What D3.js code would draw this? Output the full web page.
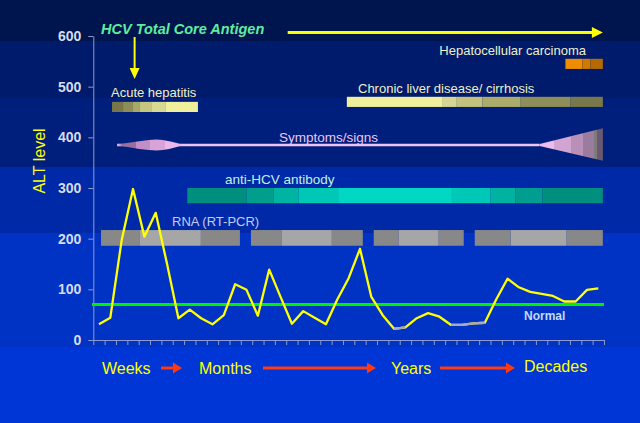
<!DOCTYPE html>
<html><head><meta charset="utf-8">
<script src="https://cdn.jsdelivr.net/npm/d3@7"></script>
<style>
html,body{margin:0;padding:0;background:#0035d6;}
svg{display:block;font-family:"Liberation Sans",Arial,sans-serif;}
</style></head>
<body><svg id="c" width="640" height="423"></svg>
<script>
// ---------- DATA ----------
const timeSteps = [1,2,3,4,5,6,7,8,9,10,11,12,13,14,15,16,17,18,19,20,21,22,23,24,25,26,27,28,29,30,31,32,33,34,35,36,37,38,39,40,41,42,43,44,45];
const altValues = [31,44,197,298,204,251,150,43,60,43,31,49,110,99,48,139,85,32,57,44,31,80,122,180,85,49,22,25,43,53,46,30,30,33,34,80,121,104,95,91,87,76,76,99,102];
const grayRuns = [[26,27],[31,34]];          // segments drawn in grey
const normalLevel = 70;
const yTicks = [0,100,200,300,400,500,600];

// annotation spans (x in time-step units 0..45, y in ALT units)
const acuteBounds   = [1.65,2.62,3.5,4.11,5.17,6.4,9.22];
const acuteY        = [450,470];
const hccBounds     = [41.6,43.1,43.8,44.9];
const hccY          = [535,555];
const chronicBounds = [22.34,30.8,32.03,34.3,37.66,42.06,44.9];
const chronicY      = [460,480];
const antiBounds    = [8.28,13.5,15.9,18.1,21.57,31.6,35.0,37.2,39.57,44.9];
const antiY         = [270,300];
const rnaBounds     = [[0.68,4.11,9.48,12.92],[13.89,16.62,21.02,23.75],[24.71,26.92,30.44,32.64],[33.61,36.78,41.71,44.9]];
const rnaY          = [186,217];
const symptomLine   = [2.1,39.33];
const symptomLevel  = 385;
const lensSpan      = [2.1,7.9];
const wedgeSpan     = [39.33,44.9];
const wedgeHalf     = 31;
const antigenArrow  = [17.13,44.9];
const antigenDown   = 3.64;
const timeLabels    = ["Weeks","Months","Years","Decades"];

// ---------- STYLE ----------
const acuteColors   = ["#77774a","#8d8d55","#a8a86a","#c6c680","#d8d892","#f0f09c"];
const hccColors     = ["#f08c00","#d07a00","#b46a00"];
const chronicColors = ["#f0f09c","#d6d692","#c2c27c","#abab6a","#8e8e58","#78784a"];
const antiColors    = ["#008e7e","#009e8c","#00b4a2","#00c8b6","#00d8c4","#00c8b6","#00b2a2","#009e8e","#008e7e"];
const rnaColors     = ["#888888","#a6a6a6","#888888"];

const W = 640, H = 423;
const svg = d3.select("#c");

// background bands
[[0,41,"#00154d"],[41,98,"#001a6c"],[98,167,"#001e7c"],[167,233,"#0029a8"],[233,347,"#0033c4"],[347,423,"#0035d6"]]
 .forEach(b=>svg.append("rect").attr("x",0).attr("y",b[0]).attr("width",W).attr("height",b[1]-b[0]).attr("fill",b[2]));

const x0 = 93.3, x1 = 604;
const xBand = d3.scaleBand().domain(timeSteps).range([x0,x1]);
const xs = d3.scaleLinear().domain([0,45]).range([x0,x1]);
const y = d3.scaleLinear().domain([0,600]).range([340,36]);

// y axis
const yAx = svg.append("g").attr("transform",`translate(${x0},0)`)
  .call(d3.axisLeft(y).tickValues(yTicks).tickSize(5).tickSizeOuter(0).tickPadding(7));
yAx.selectAll("path,line").attr("stroke","#8c9ad0");
yAx.selectAll("text").attr("fill","#d4dcf0").attr("font-size",14).attr("font-weight","bold")
   .attr("font-family","Liberation Sans, Arial, sans-serif");

// x axis
const xAx = svg.append("g").attr("transform",`translate(0,${y(0)})`)
  .call(d3.axisBottom(xs).tickValues(d3.range(0,46)).tickSize(5).tickSizeOuter(0).tickFormat(""));
xAx.selectAll("path,line").attr("stroke","#8c9ad0");

svg.append("text").attr("transform","translate(45,161) rotate(-90)").attr("text-anchor","middle")
  .attr("fill","#ffff00").attr("font-size",16).text("ALT level");

// helper for segmented bars
function segBar(bounds, colors, yr){
  colors.forEach((c,i)=>{
    svg.append("rect").attr("x",xs(bounds[i])).attr("width",xs(bounds[i+1])-xs(bounds[i]))
      .attr("y",y(yr[1])).attr("height",y(yr[0])-y(yr[1])).attr("fill",c);
  });
}
function label(t,xp,yp,col,size,anchor,weight,style){
  svg.append("text").attr("x",xp).attr("y",yp).attr("fill",col).attr("font-size",size)
    .attr("text-anchor",anchor||"start").attr("font-weight",weight||"normal").attr("font-style",style||"normal").text(t);
}

// Title + antigen arrows
label("HCV Total Core Antigen",101,34,"#60ec9e",14.5,"start","bold","italic");
svg.append("line").attr("x1",xs(antigenArrow[0])).attr("x2",xs(antigenArrow[1])-10).attr("y1",32.5).attr("y2",32.5)
  .attr("stroke","#ffff00").attr("stroke-width",3);
svg.append("path").attr("d",`M${xs(antigenArrow[1])-11},27 L${xs(antigenArrow[1])},32.5 L${xs(antigenArrow[1])-11},38 Z`).attr("fill","#ffff00");
const dx = xs(antigenDown);
svg.append("line").attr("x1",dx).attr("x2",dx).attr("y1",37).attr("y2",70).attr("stroke","#ffff00").attr("stroke-width",2);
svg.append("path").attr("d",`M${dx-5},68 L${dx},79 L${dx+5},68 Z`).attr("fill","#ffff00");

// acute hepatitis
label("Acute hepatitis",111,97,"#f0f0c8",13);
segBar(acuteBounds,acuteColors,acuteY);
// HCC
label("Hepatocellular carcinoma",586,55,"#f0f0c8",13,"end");
segBar(hccBounds,hccColors,hccY);
// Chronic
label("Chronic liver disease/ cirrhosis",358,93,"#f0f0c8",13);
segBar(chronicBounds,chronicColors,chronicY);

// symptoms
const defs = svg.append("defs");
function stepGrad(id, stops){
  const g = defs.append("linearGradient").attr("id",id).attr("x1","0%").attr("x2","100%").attr("y1","0").attr("y2","0");
  stops.forEach((s,i)=>{
    g.append("stop").attr("offset",s[0]+"%").attr("stop-color",s[2]);
    g.append("stop").attr("offset",s[1]+"%").attr("stop-color",s[2]);
  });
}
stepGrad("lensG",[[0,28,"#9a6ea0"],[28,50,"#c28ec6"],[50,72,"#d8a4d8"],[72,100,"#eab8ea"]]);
stepGrad("wedgeG",[[0,23,"#ecbcec"],[23,50,"#d2a4d2"],[50,68,"#b890b8"],[68,86,"#9c7c9e"],[86,91,"#7c7c7c"],[91,100,"#6a5870"]]);
const sy = y(symptomLevel);
svg.append("line").attr("x1",xs(symptomLine[0])).attr("x2",xs(symptomLine[1])).attr("y1",sy).attr("y2",sy)
  .attr("stroke","#f0c4f2").attr("stroke-width",2.5);
const lx0 = xs(lensSpan[0]), lx1 = xs(lensSpan[1]), lm = lx0+(lx1-lx0)*0.6;
svg.append("path").attr("d",`M${lx0},${sy} Q${lm-15},${sy-5} ${lm},${sy-5.5} Q${lm+12},${sy-5} ${lx1},${sy} Q${lm+12},${sy+5} ${lm},${sy+5.5} Q${lm-15},${sy+5} ${lx0},${sy} Z`)
  .attr("fill","url(#lensG)");
const wx0 = xs(wedgeSpan[0]), wx1 = xs(wedgeSpan[1]), wh = y(0)-y(wedgeHalf);
svg.append("path").attr("d",`M${wx0},${sy-1} L${wx1},${sy-wh-1} L${wx1},${sy+wh} L${wx0},${sy+1} Z`).attr("fill","url(#wedgeG)");
label("Symptoms/signs",279,142,"#eec4f2",13.5);

// anti-HCV
label("anti-HCV antibody",225,184,"#c0f0e4",13.5);
segBar(antiBounds,antiColors,antiY);

// RNA
label("RNA (RT-PCR)",172,226,"#c4ccf4",13);
rnaBounds.forEach(b=>segBar(b,rnaColors,rnaY));

// normal line
svg.append("line").attr("x1",92).attr("x2",604).attr("y1",y(normalLevel)).attr("y2",y(normalLevel))
  .attr("stroke","#00ee00").attr("stroke-width",3);
label("Normal",524,320,"#c8d8fa",12,"start","bold");

// ALT line
const px = i => xBand(timeSteps[i]) + xBand.bandwidth()/2;
const line = d3.line().x((d,i)=>px(i)).y(d=>y(d));
svg.append("path").attr("d",line(altValues)).attr("fill","none").attr("stroke","#ffff00").attr("stroke-width",2.3).attr("stroke-linejoin","round");
grayRuns.forEach(r=>{
  const idx = d3.range(r[0],r[1]+1);
  svg.append("path").attr("d",d3.line().x(i=>px(i)).y(i=>y(altValues[i]))(idx))
    .attr("fill","none").attr("stroke","#a8a8c0").attr("stroke-width",2.3);
});

// bottom time labels + red arrows
const tl = [[102,374],[199,374],[391,374],[524,372]];
timeLabels.forEach((t,i)=>label(t,tl[i][0],tl[i][1],"#ffff00",16));
[[161,182],[263,376],[440,515]].forEach(a=>{
  svg.append("line").attr("x1",a[0]).attr("x2",a[1]-8).attr("y1",368).attr("y2",368).attr("stroke","#ff3a10").attr("stroke-width",3);
  svg.append("path").attr("d",`M${a[1]-9},362.5 L${a[1]},368 L${a[1]-9},373.5 Z`).attr("fill","#ff3a10");
});
</script></body></html>
